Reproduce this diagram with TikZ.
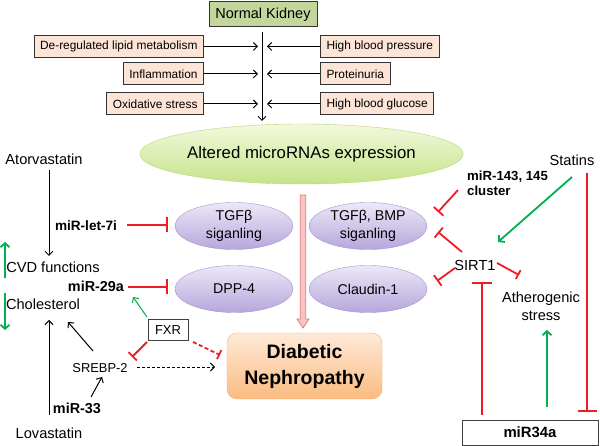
\documentclass[tikz,border=0pt]{standalone}
\usepackage{fontspec}
\setmainfont{Liberation Sans}
\usetikzlibrary{arrows.meta,calc,shapes.geometric}
\definecolor{kgreen}{HTML}{C3D69B}
\definecolor{peach}{HTML}{FCE4D6}
\definecolor{ired}{HTML}{EE1C25}
\definecolor{agreen}{HTML}{00B050}
\definecolor{lavtop}{HTML}{ECE8F8}
\definecolor{lavbot}{HTML}{B6A6DB}
\definecolor{lavline}{HTML}{A596CF}
\definecolor{gtop}{HTML}{F2F9DC}
\definecolor{gbot}{HTML}{C6E38A}
\definecolor{gline}{HTML}{B6D77A}
\definecolor{otop}{HTML}{FEEAD8}
\definecolor{obot}{HTML}{FBBB80}
\definecolor{oline}{HTML}{F4B07A}
\definecolor{pfill}{HTML}{F7C3C3}
\definecolor{pline}{HTML}{E07A7A}
\newcommand\fsz[2]{\fontsize{#1}{#2}\selectfont}
\tikzset{
  kid/.style={draw=black!80, fill=kgreen, line width=1pt, minimum width=108pt, minimum height=25pt, font=\fsz{14.5}{17}},
  fac/.style={draw=black!80, fill=peach, line width=1pt, minimum height=22pt, inner xsep=6pt, font=\fsz{11.9}{14}},
  ell/.style={ellipse, draw=lavline, top color=lavtop, bottom color=lavbot, minimum width=118pt, minimum height=47pt, inner sep=0pt, align=center, font=\fsz{14.2}{18}},
  txt/.style={inner sep=1pt, align=center, font=\fsz{14.6}{18}},
  btxt/.style={inner sep=1pt, align=left, font=\bfseries\fsz{14.4}{17}},
  blk/.style={draw=black, line width=1pt, -{Straight Barb[length=4pt,width=8pt]}},
  grn/.style={draw=agreen, line width=1.8pt, -{Straight Barb[length=4pt,width=9pt,line width=1.8pt]}},
  grnthin/.style={draw=agreen, line width=1pt, -{Straight Barb[length=4pt,width=8pt]}},
  inh/.style={draw=ired, line width=1.8pt, -{Bar[width=#1, line width=1.8pt]}},
  inh/.default=14pt,
  rbox/.style={draw=black!75, line width=1pt, fill=white},
}
\begin{document}
\begin{tikzpicture}[x=1pt,y=-1pt]
\useasboundingbox (0,0) rectangle (600,446);

% top part
\node[kid] (kid) at (263,14.5) {Normal Kidney};
\node[fac, anchor=east] (f1) at (204,46.5) {De-regulated lipid metabolism};
\node[fac, anchor=east] (f2) at (204,74) {Inflammation};
\node[fac, anchor=east] (f3) at (204,104) {Oxidative stress};
\node[fac, anchor=west] (g1) at (320,46.5) {High blood pressure};
\node[fac, anchor=west] (g2) at (320,74) {Proteinuria};
\node[fac, anchor=west] (g3) at (320,104) {High blood glucose};

\coordinate (m1) at (262,32);
\coordinate (m2) at (262,121);
\draw[blk] (m1) -- (m2);
\foreach \b/\y in {f1/46.5,f2/74,f3/104}{
  \coordinate (l\b) at (258,\y);
  \draw[blk] (\b.east) -- (l\b);
}
\foreach \b/\y in {g1/46.5,g2/74,g3/104}{
  \coordinate (r\b) at (267,\y);
  \draw[blk] (\b.west) -- (r\b);
}

% altered microRNAs
\node[ellipse, draw=gline, top color=gtop, bottom color=gbot, minimum width=257pt, minimum height=60pt, inner sep=0pt, font=\fsz{16.8}{20}] (alt) at (301.5,154) {Altered microRNAs expression};

% ellipses
\node[ell] (tgf) at (234,226) {TGFβ\\siganling};
\node[ell] (bmp) at (368,226) {TGFβ, BMP\\siganling};
\node[ell] (dpp) at (234,289) {DPP-4};
\node[ell] (cld) at (368,289) {Claudin-1};

% Diabetic nephropathy
\node[draw=oline, top color=otop, bottom color=obot, rounded corners=10pt, minimum width=155pt, minimum height=66pt, align=center, font=\bfseries\fsz{19.5}{26}] (dn) at (304.5,366) {Diabetic\\Nephropathy};

% thick pink arrow
\coordinate (pa) at (303,195);
\coordinate (pb) at (303,328);
\draw[draw=pline, fill=pfill, line width=0.8pt]
  ($(pa)+(-2.7,0)$) -- ($(pb)+(-2.7,-9)$) -- ($(pb)+(-6,-9)$) -- (pb)
  -- ($(pb)+(6,-9)$) -- ($(pb)+(2.7,-9)$) -- ($(pa)+(2.7,0)$) -- cycle;

% left side
\node[txt] (ator) at (44,159) {Atorvastatin};
\node[btxt, font=\bfseries\fsz{13.6}{16}] (let7) at (86,226) {miR-let-7i};
\node[txt] (cvd) at (53,267) {CVD functions};
\node[btxt] (m29) at (96,286) {miR-29a};
\node[txt] (chol) at (43,304) {Cholesterol};
\node[txt, font=\fsz{12.9}{15}] (srebp) at (100,368) {SREBP-2};
\node[btxt] (m33) at (77,408) {miR-33};
\node[txt] (lova) at (49,433) {Lovastatin};
\node[rbox, minimum width=40pt, minimum height=21pt, inner sep=0pt, font=\fsz{13}{15}] (fxr) at (168,330) {FXR};

\coordinate (a1) at (49,170); \coordinate (a2) at (49,256);
\draw[blk] (a1) -- (a2);
\coordinate (lv1) at (49,415); \coordinate (lv2) at (49,320);
\draw[blk] (lv1) -- (lv2);
\coordinate (s1) at (91,397); \coordinate (s2) at (102,377);
\draw[blk] (s1) -- (s2);
\coordinate (c1) at (93,351); \coordinate (c2) at (68,322);
\draw[blk] (c1) -- (c2);
\coordinate (gu1) at (5,278); \coordinate (gu2) at (5,242);
\draw[grn] (gu1) -- (gu2);
\coordinate (gd1) at (5,293); \coordinate (gd2) at (5,330);
\draw[grn] (gd1) -- (gd2);
\coordinate (x1) at (147,317); \coordinate (x2) at (133,297);
\draw[grnthin] (x1) -- (x2);
\coordinate (x3) at (147,342); \coordinate (x4) at (132,357);
\draw[inh=12pt] (x3) -- (x4);
\coordinate (x5) at (193,342); \coordinate (x6) at (220,355);
\draw[inh=10pt, dash pattern=on 4pt off 2.5pt] (x5) -- (x6);
\coordinate (d1) at (137,367); \coordinate (d2) at (215,367);
\draw[blk, line width=0.9pt, dash pattern=on 3pt off 2pt] (d1) -- (d2);
\coordinate (e1) at (127,225); \coordinate (e2) at (168,225);
\draw[inh=15pt] (e1) -- (e2);
\coordinate (e3) at (128,287); \coordinate (e4) at (168,287);
\draw[inh=15pt] (e3) -- (e4);

% right side
\node[txt] (stat) at (572,160) {Statins};
\node[btxt, font=\bfseries\fsz{13.2}{15.5}, anchor=west] (m143) at (466,183.5) {miR-143, 145\\cluster};
\node[txt] (sirt) at (475,265) {SIRT1};
\node[txt] (ath) at (541,306) {Atherogenic\\stress};
\node[rbox, minimum width=136pt, minimum height=25pt, inner sep=0pt, font=\bfseries\fsz{14.9}{17}] (m34) at (530,432.5) {miR34a};

\coordinate (h1) at (458,190); \coordinate (h2) at (438,212);
\draw[inh=13pt] (h1) -- (h2);
\coordinate (h3) at (462,252); \coordinate (h4) at (438,232);
\draw[inh=13pt] (h3) -- (h4);
\coordinate (h5) at (455,268); \coordinate (h6) at (437,281);
\draw[inh=13pt] (h5) -- (h6);
\coordinate (h7) at (497,263); \coordinate (h8) at (519,275);
\draw[inh=10pt] (h7) -- (h8);
\coordinate (v1) at (482,415); \coordinate (v2) at (482,282);
\draw[inh=20pt] (v1) -- (v2);
\coordinate (v3) at (547,407); \coordinate (v4) at (547,330);
\draw[grn] (v3) -- (v4);
\coordinate (st1) at (587,173); \coordinate (st2) at (587,412);
\draw[inh=19pt] (st1) -- (st2);
\coordinate (st3) at (572,177); \coordinate (st4) at (498,242);
\draw[grn] (st3) -- (st4);
\end{tikzpicture}
\end{document}
